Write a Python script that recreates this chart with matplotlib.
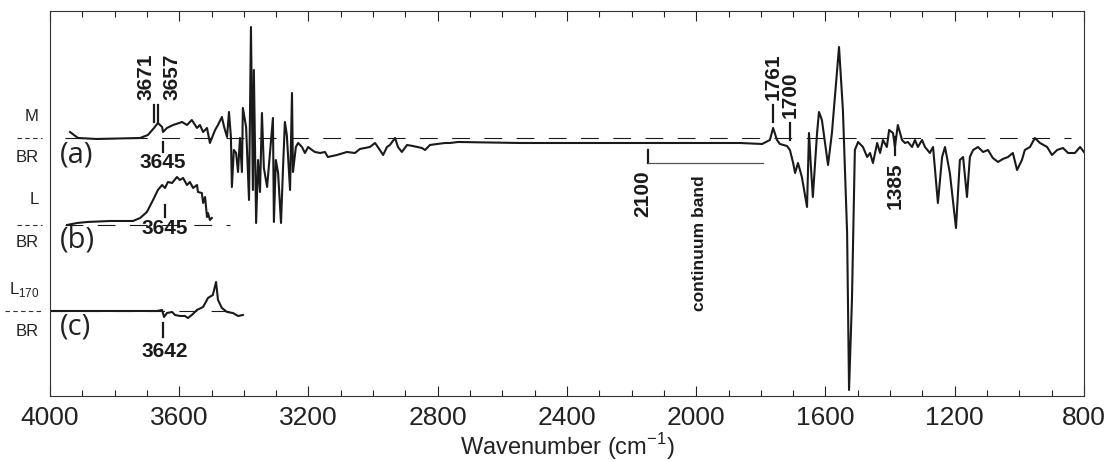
import numpy as np
import matplotlib.pyplot as plt
from matplotlib.ticker import MultipleLocator

# spectrum (a): M - BR difference, arbitrary absorbance units vs wavenumber
wn_a = [3938, 3913, 3855, 3721, 3697, 3678, 3666, 3653, 3650, 3638, 3619, 3591,
        3576, 3561, 3545, 3536, 3526, 3514, 3505, 3489, 3480, 3468, 3461, 3452,
        3446, 3440, 3437, 3431, 3424, 3418, 3412, 3406, 3403, 3393, 3384, 3378,
        3372, 3369, 3362, 3356, 3350, 3344, 3338, 3328, 3319, 3310, 3307, 3301,
        3294, 3285, 3279, 3273, 3267, 3257, 3251, 3248, 3239, 3232, 3220, 3211,
        3201, 3189, 3180, 3164, 3149, 3140, 3112, 3081, 3056, 3041, 3010, 2994,
        2979, 2969, 2957, 2948, 2932, 2923, 2911, 2895, 2877, 2849, 2839, 2824,
        2802, 2777, 2762, 2737, 2545, 2298, 1988, 1865, 1796, 1772, 1762, 1750,
        1741, 1719, 1710, 1700, 1694, 1685, 1673, 1657, 1651, 1645, 1639, 1626,
        1620, 1611, 1592, 1580, 1558, 1546, 1533, 1527, 1518, 1509, 1499, 1484,
        1471, 1462, 1453, 1440, 1431, 1422, 1410, 1403, 1391, 1385, 1376, 1363,
        1354, 1345, 1332, 1323, 1314, 1301, 1292, 1277, 1267, 1252, 1239, 1230,
        1215, 1196, 1184, 1174, 1162, 1153, 1143, 1128, 1112, 1097, 1082, 1066,
        1051, 1035, 1020, 1007, 992, 983, 967, 952, 936, 914, 899, 883, 865,
        849, 828, 812, 800]
abs_a = [6, 0, -1, 0, 3, 10, 15, 11, 6, 10, 13, 16,
         13, 18, 10, 13, 6, 10, -5, 8, 13, 21, 11, 1,
         26, 1, -49, -12, -15, -34, 0, -34, 30, 11, -62, 111,
         -52, 68, -85, -22, -54, 25, -30, -49, -15, 20, -84, -22,
         -35, -85, -32, 16, 3, -52, 45, -34, -9, -5, -9, -15,
         -9, -12, -14, -15, -14, -19, -17, -14, -15, -11, -9, -5,
         -12, -17, -9, -7, 0, -9, -14, -7, -8, -10, -12, -7,
         -6, -5, -5, -4, -5, -5, -5, -5, -6, -2, 10, -2,
         -6, -8, -12, -25, -35, -25, -39, -69, 5, -29, -59, 5,
         26, 18, -27, 5, 91, 28, -95, -252, -162, -12, -4, -9,
         -19, -15, -25, -5, -15, -2, -9, 8, 5, -9, 13, -2,
         -5, -4, -9, -2, -9, -2, -9, -15, -9, -65, -19, -9,
         -35, -90, -22, -19, -59, -19, -12, -9, -14, -12, -20, -24,
         -21, -19, -15, -32, -22, -12, -9, 0, -5, -9, -17, -12, -10,
         -15, -15, -9, -14]

# spectrum (b): L - BR
wn_b = [3947, 3916, 3885, 3814, 3743, 3721, 3700, 3681, 3666, 3653, 3644, 3635,
        3622, 3607, 3598, 3588, 3576, 3567, 3557, 3545, 3542, 3530, 3526, 3520,
        3514, 3511, 3505, 3499]
abs_b = [0, 2, 3, 4, 4, 7, 13, 25, 35, 40, 37, 43,
         42, 48, 45, 47, 40, 43, 37, 40, 33, 32, 22, 28,
         8, 12, 5, 7]

# spectrum (c): L170 - BR
wn_c = [4000, 3669, 3653, 3647, 3638, 3622, 3613, 3598, 3582, 3573, 3561, 3545,
        3526, 3511, 3496, 3486, 3480, 3468, 3452, 3434, 3418, 3403]
abs_c = [0, 0, 1, -6, -2, -1, -4, -5, -5, -7, -4, 1,
         4, 13, 16, 29, 11, 3, -1, -2, -5, -4]

offsets = {"a": 258, "b": 171, "c": 85}

plt.rcParams['font.family'] = ['Liberation Sans', 'DejaVu Sans']

fig = plt.figure(figsize=(11.13, 4.62), dpi=100)
ax = fig.add_axes([0.0449, 0.1429, 0.929, 0.8333])

col = '#1a1a1a'
ax.plot(wn_a, np.array(abs_a) + offsets["a"], color=col, lw=1.5)
ax.plot(wn_b, np.array(abs_b) + offsets["b"], color=col, lw=1.5)
ax.plot(wn_c, np.array(abs_c) + offsets["c"], color=col, lw=1.5)

# dashed zero lines
dash = dict(color=col, lw=0.8, dashes=(16, 13))
ax.plot([3955, 840], [offsets["a"]] * 2, **dash)
ax.plot([3955, 3443], [offsets["b"]] * 2, **dash)
ax.plot([4000, 3434], [offsets["c"]] * 2, **dash)

# left side labels
for key, top, bot, ntop, nbot in [("a", "M", "BR", 21, -20),
                                   ("b", "L", "BR", 25, -18),
                                   ("c", "L$_{\\mathregular{170}}$", "BR", 21, -21)]:
    y0 = offsets[key]
    x0 = 4102 if key != "c" else 4139
    ax.plot([x0, 4025], [y0, y0], color='#333333', lw=0.8, dashes=(4, 3),
            clip_on=False)
    ax.text(4034, y0 + ntop, top, ha='right', va='center', fontsize=12,
            color='#222222', clip_on=False)
    ax.text(4034, y0 + nbot, bot, ha='right', va='center', fontsize=12,
            color='#222222', clip_on=False)

for key, dy in [("a", -17), ("b", -15), ("c", -16)]:
    ax.text(3969, offsets[key] + dy, "(%s)" % key, ha='left', va='center',
            fontsize=21, family=['Open Sans', 'DejaVu Sans'], color='#222222')

# band markers
bold = dict(fontsize=15, fontweight='bold', color=col)
mk = dict(color=col, lw=1.6)
ya = offsets["a"]
ax.plot([3678, 3678], [ya + 16, ya + 33], **mk)
ax.plot([3665, 3665], [ya + 16, ya + 33], **mk)
ax.text(3703, ya + 38, "3671", rotation=90, ha='center', va='bottom', **bold)
ax.text(3622, ya + 38, "3657", rotation=90, ha='center', va='bottom', **bold)
ax.plot([3650, 3650], [ya - 4, ya - 14], **mk)
ax.text(3650, ya - 15, "3645", ha='center', va='top', **bold)

yb = offsets["b"]
ax.plot([3644, 3644], [yb + 20, yb + 8], **mk)
ax.text(3644, yb + 6, "3645", ha='center', va='top', **bold)

yc = offsets["c"]
ax.plot([3650, 3650], [yc - 12, yc - 26], **mk)
ax.text(3644, yc - 31, "3642", ha='center', va='top', **bold)

ax.plot([2150, 2150], [ya - 12, ya - 25], **mk)
ax.plot([2150, 1793], [ya - 25, ya - 25], color='#555555', lw=0.9)
ax.text(2165, ya - 32, "2100", rotation=90, ha='center', va='top', **bold)
ax.text(1989, ya - 105, "continuum band", rotation=90, ha='center',
        va='center', fontsize=12.5, fontweight='bold', color=col)

ax.plot([1762, 1762], [ya + 16, ya + 33], **mk)
ax.text(1762, ya + 38, "1761", rotation=90, ha='center', va='bottom', **bold)
ax.plot([1710, 1710], [ya - 2, ya + 15], **mk)
ax.text(1710, ya + 20, "1700", rotation=90, ha='center', va='bottom', **bold)
ax.plot([1385, 1385], [ya + 1, ya - 17], **mk)
ax.text(1385, ya - 24, "1385", rotation=90, ha='center', va='top', **bold)

ax.set_xlim(4000, 800)
ax.set_ylim(0, 385)
ax.set_yticks([])
ax.xaxis.set_major_locator(MultipleLocator(400))
ax.xaxis.set_minor_locator(MultipleLocator(100))
ax.tick_params(axis='x', which='both', direction='in', top=True,
               width=0.8, colors='#222222', labelsize=19, pad=7)
ax.tick_params(axis='x', which='major', length=7)
ax.tick_params(axis='x', which='minor', length=4)
for s in ax.spines.values():
    s.set_linewidth(0.8)
    s.set_color('#333333')
ax.set_xlabel("Wavenumber (cm$^{\\mathregular{-1}}$)", fontsize=17, labelpad=1,
              color='#222222')

fig.savefig("out.png", dpi=100)
